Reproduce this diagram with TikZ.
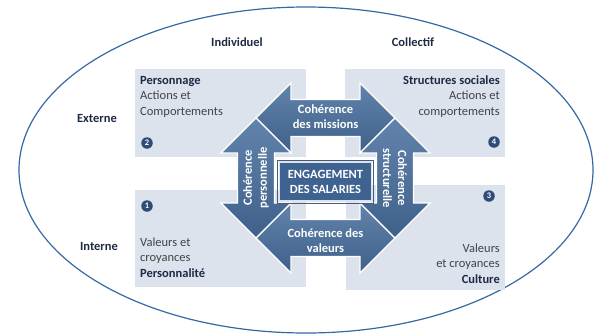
\documentclass[tikz,border=0pt]{standalone}
\usepackage{fontspec}
\setmainfont{Carlito}
\definecolor{ringblue}{HTML}{3569A3}
\definecolor{panelgray}{HTML}{DCE3ED}
\definecolor{arrowtop}{HTML}{6183AC}
\definecolor{arrowbot}{HTML}{3F6189}
\definecolor{engblue}{HTML}{3F6390}
\definecolor{numblue}{HTML}{2E4C78}
\definecolor{bodytext}{HTML}{404448}
\definecolor{headtext}{HTML}{1E2A44}

\begin{document}
\begin{tikzpicture}[x=1pt,y=-1pt,
  panel/.style={fill=panelgray, draw=none},
  dblarrow/.style={top color=arrowtop, bottom color=arrowbot, draw=white, line width=1.3pt, line join=miter},
  axislabel/.style={font=\fontsize{12.5}{15}\selectfont\bfseries, text=headtext},
  paneltext/.style={inner sep=0pt, font=\fontsize{12.5}{15.5}\selectfont, text=bodytext},
  arrowtext/.style={align=center, inner sep=0pt, text=white, font=\fontsize{12.5}{15}\selectfont\bfseries},
  numdot/.style={circle, fill=numblue, text=white, inner sep=0pt, minimum size=11.5pt, font=\fontsize{8.5}{9}\selectfont\bfseries}]
  \useasboundingbox (0,0) rectangle (594,335);

  %% outer ring
  \draw[ringblue, line width=1.2pt] (306,170) ellipse [x radius=287, y radius=163];

  %% panels
  \fill[panel] (135,69) rectangle (306,157);
  \fill[panel] (345,69) rectangle (505,157);
  \fill[panel] (135,190) rectangle (306,287);
  \fill[panel] (346,185) rectangle (505,290);

  %% axis labels
  \node[axislabel] (indiv) at (237,42) {Individuel};
  \node[axislabel] (coll) at (413,42) {Collectif};
  \node[axislabel] (ext) at (97,118) {Externe};
  \node[axislabel] (int) at (99,246) {Interne};

  %% panel texts
  \node[paneltext, anchor=north west, align=left] (pers) at (140,76)
    {{\bfseries\color{headtext}Personnage}\\Actions et\\Comportements};
  \node[paneltext, anchor=north east, align=right] (struct) at (500,75.5)
    {{\bfseries\color{headtext}Structures sociales}\\Actions et\\comportements};
  \node[paneltext, anchor=north west, align=left] (persona) at (140,237.5)
    {Valeurs et\\croyances\\{\bfseries\color{headtext}Personnalité}};
  \node[paneltext, anchor=north east, align=right] (cult) at (500,243.5)
    {Valeurs\\et croyances\\{\bfseries\color{headtext}Culture}};

  %% numbers
  \node[numdot] (n2) at (147,143) {2};
  \node[numdot] (n1) at (147,206) {1};
  \node[numdot] (n4) at (494,142) {4};
  \node[numdot] (n3) at (489,196) {3};

  %% top arrow
  \draw[dblarrow] (256,118) -- (291,83) -- (291,99.5) -- (360,99.5) -- (360,83) -- (395,118)
    -- (360,153) -- (360,136.5) -- (291,136.5) -- (291,153) -- cycle;
  %% bottom arrow
  \draw[dblarrow] (256,238) -- (291,203) -- (291,219.5) -- (360,219.5) -- (360,203) -- (395,238)
    -- (360,273) -- (360,256.5) -- (291,256.5) -- (291,273) -- cycle;
  %% left arrow
  \draw[dblarrow] (256,118) -- (291,153) -- (274.5,153) -- (274.5,203) -- (291,203) -- (256,238)
    -- (221,203) -- (237.5,203) -- (237.5,153) -- (221,153) -- cycle;
  %% right arrow
  \draw[dblarrow] (395,118) -- (430,153) -- (413.5,153) -- (413.5,203) -- (430,203) -- (395,238)
    -- (360,203) -- (376.5,203) -- (376.5,153) -- (360,153) -- cycle;

  %% arrow labels
  \node[arrowtext] (missions) at (325.5,117) {Cohérence\\des missions};
  \node[arrowtext] (valeurs) at (325.5,241) {Cohérence des\\valeurs};
  \node[arrowtext, rotate=90] (personnelle) at (256,178) {Cohérence\\personnelle};
  \node[arrowtext, rotate=-90] (structurelle) at (395,178) {Cohérence\\structurelle};

  %% centre
  \node[arrowtext, fill=engblue, draw=white!82!engblue, line width=1.6pt,
    minimum width=92pt, minimum height=39pt] (engage) at (325.5,181.5) {ENGAGEMENT\\DES SALARIES};
  \draw[numblue!70!gray, line width=0.5pt] ([shift={(-1.1,-1.1)}]engage.north west)
    rectangle ([shift={(1.1,1.1)}]engage.south east);

\end{tikzpicture}
\end{document}
